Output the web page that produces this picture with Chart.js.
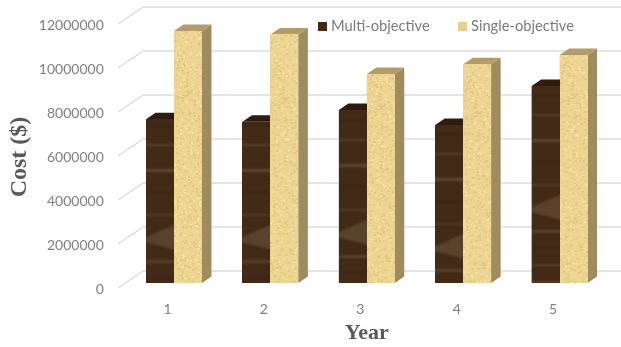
<!DOCTYPE html>
<html>
<head>
<meta charset="utf-8">
<title>Cost per year</title>
<script src="https://cdn.jsdelivr.net/npm/chart.js@4"></script>
<style>
  html, body { margin: 0; padding: 0; background: #fff; }
  canvas { display: block; }
</style>
</head>
<body>
<canvas id="chartCost" width="621" height="347"></canvas>
<script>
const years = ["1", "2", "3", "4", "5"];
const multiObjective = [7440000, 7330000, 7860000, 7180000, 8950000];
const singleObjective = [11450000, 11300000, 9500000, 9940000, 10360000];
const seriesNames = ["Multi-objective", "Single-objective"];
const yTickStep = 2000000;
const yMax = 12000000;
const xTitle = "Year";
const yTitle = "Cost ($)";

// wood grain: y position, thickness, colour
const darkGrain = [
  [8, 2, "#523824"], [31, 2, "#553b27"], [58, 1, "#503622"], [84, 3, "#573e29"], [109, 2, "#5b412c"],
  [127, 1, "#352110"], [146, 2, "#584029"], [171, 3, "#5e4630"], [194, 1, "#352110"], [216, 2, "#553b26"],
  [262, 3, "#5a402b"], [279, 1, "#352110"], [296, 2, "#564028"], [313, 2, "#5a402b"]
];
// distance the grain is slid down on each bar
const darkShift = [45, 45, 40, 54, 15];
const lightShift = [0, 7, 14, 21, 3];

function makeDarkWood() {
  const c = document.createElement("canvas");
  c.width = 28; c.height = 330;
  const g = c.getContext("2d");
  g.fillStyle = "#432a17";
  g.fillRect(0, 0, 28, 330);
  g.filter = "blur(0.8px)";
  darkGrain.forEach(([y, h, col]) => { g.fillStyle = col; g.fillRect(-2, y, 32, h); });
  // the pale knot low down on each bar
  g.fillStyle = "#5a432d";
  g.beginPath();
  g.moveTo(-2, 240); g.lineTo(30, 226); g.lineTo(30, 252); g.lineTo(-2, 244);
  g.fill();
  return c;
}

function makeLightWood() {
  const c = document.createElement("canvas");
  c.width = 28; c.height = 330;
  const g = c.getContext("2d");
  g.fillStyle = "#ecd590";
  g.fillRect(0, 0, 28, 330);
  g.filter = "blur(0.6px)";
  // fixed speckle, walks the bar with a plain modulo step
  let s = 7;
  for (let i = 0; i < 700; i++) {
    s = (s * 137 + 59) % 9241;
    g.fillStyle = s % 3 === 0 ? "#e2c87f" : s % 3 === 1 ? "#f2dea6" : "#e8ce88";
    g.fillRect(s % 28, (s >> 2) % 330, 2, 2);
  }
  return c;
}

const darkWood = makeDarkWood();
const lightWood = makeLightWood();

const depthX = 9.5;
const depthY = 6.5;

function face(ctx, pts, color) {
  ctx.fillStyle = color;
  ctx.beginPath();
  pts.forEach((p, i) => (i ? ctx.lineTo(p[0], p[1]) : ctx.moveTo(p[0], p[1])));
  ctx.closePath();
  ctx.fill();
}

// back wall grid with the slanted lead-ins next to the tick labels
const wallGrid = {
  id: "wallGrid",
  beforeDatasetsDraw(chart) {
    const { ctx, scales: { y }, width } = chart;
    ctx.save();
    ctx.strokeStyle = "#dcdcdc";
    ctx.lineWidth = 1.5;
    y.ticks.forEach((t) => {
      const py = y.getPixelForValue(t.value);
      ctx.beginPath();
      ctx.moveTo(118, py + 5);
      ctx.lineTo(143, py - 12);
      ctx.lineTo(width, py - 12);
      ctx.stroke();
    });
    ctx.restore();
  },
  afterDraw(chart) {
    const { ctx } = chart;
    ctx.save();
    // y title, centred lower than the plot
    ctx.save();
    ctx.translate(20, 157);
    ctx.rotate(-Math.PI / 2);
    ctx.font = "bold 24px 'Liberation Serif'";
    ctx.fillStyle = "#595959";
    ctx.textAlign = "center";
    ctx.textBaseline = "middle";
    ctx.fillText(yTitle, 0, 0);
    ctx.restore();
    // legend in one row over the plot
    ctx.font = "14.7px Lato";
    ctx.textBaseline = "middle";
    [318, 458].forEach((x, i) => {
      ctx.fillStyle = chart.data.datasets[i].backgroundColor;
      ctx.fillRect(x, 22, 9, 9);
      ctx.fillStyle = "#7a7a7a";
      ctx.fillText(seriesNames[i], x + 13, 26.5);
    });
    ctx.restore();
  },
};

// draws each bar as a block: textured front, top and right side
const blockBars = {
  id: "blockBars",
  afterDatasetsDraw(chart) {
    const { ctx } = chart;
    const styles = [
      { tex: darkWood, shift: darkShift, top: "#2f1c0e", side: "#2a1a0c" },
      { tex: lightWood, shift: lightShift, top: "#b39c68", side: "#a08b5e" },
    ];
    ctx.save();
    years.forEach((_, i) => {
      styles.forEach((st, d) => {
        const bar = chart.getDatasetMeta(d).data[i];
        const l = bar.x - bar.width / 2;
        const r = bar.x + bar.width / 2;
        const t = bar.y;
        const b = bar.base;
        face(ctx, [[r, t], [r + depthX, t - depthY], [r + depthX, b - depthY], [r, b]], st.side);
        face(ctx, [[l, t], [l + depthX, t - depthY], [r + depthX, t - depthY], [r, t]], st.top);
        ctx.drawImage(st.tex, 0, 330 - st.shift[i] - (b - t), 28, b - t, l, t, r - l, b - t);
      });
    });
    ctx.restore();
  },
};

new Chart(document.getElementById("chartCost").getContext("2d"), {
  type: "bar",
  data: {
    labels: years,
    datasets: [
      { label: seriesNames[0], data: multiObjective, backgroundColor: "#432a17", categoryPercentage: 0.58, barPercentage: 1 },
      { label: seriesNames[1], data: singleObjective, backgroundColor: "#e8cf8a", categoryPercentage: 0.58, barPercentage: 1 },
    ],
  },
  options: {
    responsive: false,
    animation: false,
    layout: { padding: { top: 19, right: 13.2, left: 0, bottom: 0 } },
    plugins: {
      tooltip: { enabled: false },
      legend: { display: false },
    },
    scales: {
      x: {
        grid: { display: false },
        border: { display: false },
        afterFit(s) { s.height = 64; },
        ticks: { color: "#7f7f7f", labelOffset: -6.5, padding: 10, maxRotation: 0, font: { family: "Lato", size: 14 } },
        title: { display: true, text: xTitle, color: "#595959", padding: { top: 0, bottom: 0 }, font: { family: "Liberation Serif", size: 22, weight: "bold" } },
      },
      y: {
        min: 0,
        max: yMax,
        grid: { display: false },
        border: { display: false },
        // the tick padding would otherwise push the top of the plot down
        afterFit(s) { s.width = 125.8; s.paddingTop = 0; s.paddingBottom = 0; },
        ticks: { stepSize: yTickStep, color: "#7f7f7f", labelOffset: 6.5, padding: 14, font: { family: "Lato", size: 14 }, callback: (v) => String(v) },
      },
    },
  },
  plugins: [wallGrid, blockBars],
});
</script>
</body>
</html>
